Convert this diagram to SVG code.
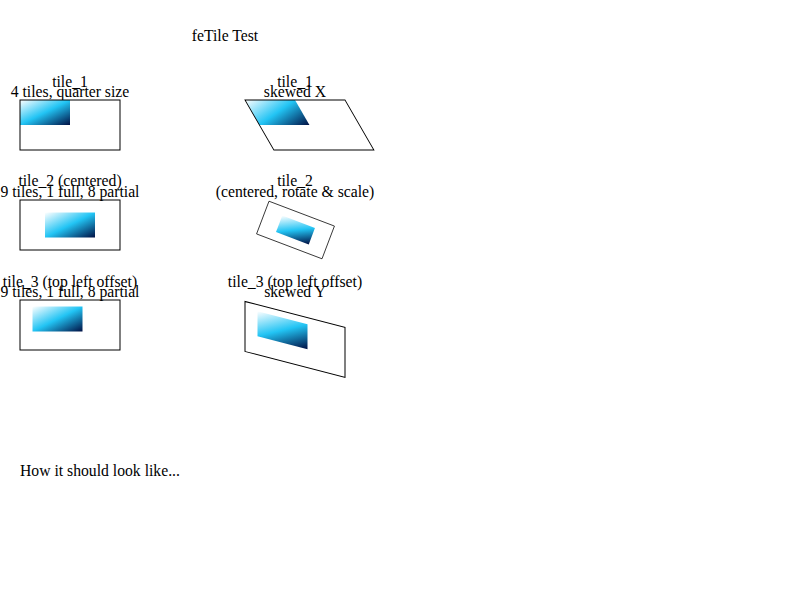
<svg xmlns="http://www.w3.org/2000/svg" width="800" height="600" viewBox="0 0 800 600">
<style>
text{font-family:"Liberation Serif","Times New Roman",serif;font-size:15.7px;fill:#000}
.c{text-anchor:middle}
.frame{fill:none;stroke:#000;stroke-width:1}
</style>
<defs>
<linearGradient id="g" x1="0" y1="0" x2="1" y2="1">
<stop offset="0" stop-color="#ffffff"/>
<stop offset="0.5" stop-color="#22c4f4"/>
<stop offset="1" stop-color="#001044"/>
</linearGradient>
</defs>
<rect width="800" height="600" fill="#fff"/>
<text x="225" y="41" class="c">feTile Test</text>

<g id="tile1">
<text x="70" y="87" class="c">tile_1</text>
<text x="70" y="97" class="c">4 tiles, quarter size</text>
<rect x="20" y="100" width="50" height="25" fill="url(#g)"/>
<rect x="20" y="100" width="100" height="50" class="frame"/>
</g>

<g id="tile1-skew">
<text x="295" y="87" class="c">tile_1</text>
<text x="295" y="97" class="c">skewed X</text>
<g transform="translate(245,100) skewX(30)">
<rect x="0" y="0" width="50" height="25" fill="url(#g)"/>
<rect x="0" y="0" width="100" height="50" class="frame"/>
</g>
</g>

<g id="tile2">
<text x="70" y="186" class="c">tile_2 (centered)</text>
<text x="70" y="197" class="c">9 tiles, 1 full, 8 partial</text>
<rect x="45" y="212.5" width="50" height="25" fill="url(#g)"/>
<rect x="20" y="200" width="100" height="50" class="frame"/>
</g>

<g id="tile2-rot">
<text x="295" y="186" class="c">tile_2</text>
<text x="295" y="197" class="c">(centered, rotate &amp; scale)</text>
<g transform="translate(295.5,230) rotate(20.8) scale(0.7)">
<rect x="-25" y="-12.5" width="50" height="25" fill="url(#g)"/>
<rect x="-50" y="-25" width="100" height="50" class="frame" stroke-width="1.4"/>
</g>
</g>

<g id="tile3">
<text x="70" y="287" class="c">tile_3 (top left offset)</text>
<text x="70" y="297" class="c">9 tiles, 1 full, 8 partial</text>
<rect x="32.5" y="306.5" width="50" height="25" fill="url(#g)"/>
<rect x="20" y="300" width="100" height="50" class="frame"/>
</g>

<g id="tile3-skew">
<text x="295" y="287" class="c">tile_3 (top left offset)</text>
<text x="295" y="297" class="c">skewed Y</text>
<g transform="translate(245,301.5) skewY(14.5)">
<rect x="12.5" y="6.5" width="50" height="25" fill="url(#g)"/>
<rect x="0" y="0" width="100" height="50" class="frame"/>
</g>
</g>

<text x="20" y="476">How it should look like...</text>
</svg>
